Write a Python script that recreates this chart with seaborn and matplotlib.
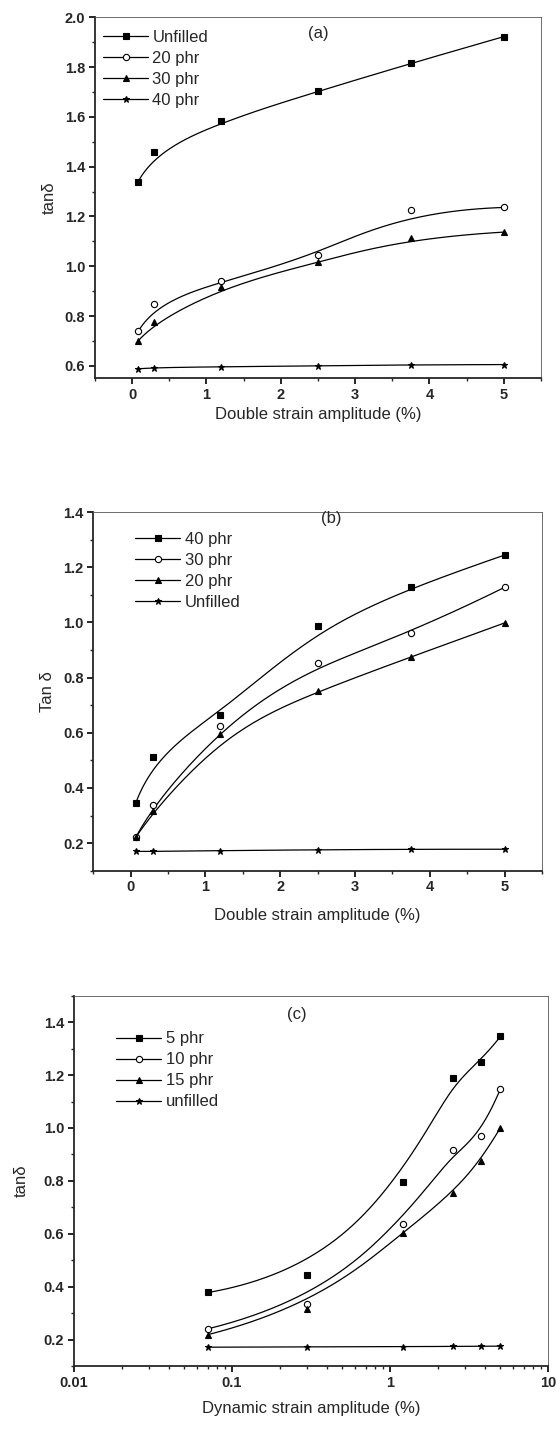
import numpy as np
import pandas as pd
import seaborn as sns
import matplotlib
matplotlib.use("Agg")
import matplotlib.pyplot as plt
from matplotlib.lines import Line2D
from matplotlib.ticker import MultipleLocator, FuncFormatter, LogLocator, NullFormatter

# ---------------- data ----------------
# Panel (a)
x_a = [0.08, 0.3, 1.2, 2.5, 3.75, 5.0]
a_unfilled = [1.340, 1.459, 1.582, 1.702, 1.815, 1.922]
a_20phr = [0.738, 0.849, 0.939, 1.044, 1.224, 1.236]
a_30phr = [0.700, 0.774, 0.918, 1.015, 1.115, 1.137]
a_40phr = [0.588, 0.593, 0.596, 0.600, 0.604, 0.605]
labels_a = ["Unfilled", "20 phr", "30 phr", "40 phr"]

# Panel (b)
x_b = [0.07, 0.3, 1.2, 2.5, 3.75, 5.0]
b_40phr = [0.347, 0.514, 0.666, 0.986, 1.127, 1.244]
b_30phr = [0.222, 0.339, 0.626, 0.854, 0.960, 1.127]
b_20phr = [0.222, 0.315, 0.596, 0.752, 0.875, 0.998]
b_unfilled = [0.170, 0.170, 0.173, 0.176, 0.178, 0.178]
labels_b = ["40 phr", "30 phr", "20 phr", "Unfilled"]

# Panel (c)
x_c = [0.071, 0.3, 1.2, 2.5, 3.75, 5.0]
c_5phr = [0.378, 0.444, 0.797, 1.190, 1.250, 1.346]
c_10phr = [0.241, 0.334, 0.638, 0.916, 0.970, 1.148]
c_15phr = [0.219, 0.315, 0.601, 0.755, 0.876, 1.001]
c_unfilled = [0.171, 0.172, 0.173, 0.174, 0.175, 0.175]
labels_c = ["5 phr", "10 phr", "15 phr", "unfilled"]

xticks_lin = [0, 1, 2, 3, 4, 5]
xticks_log = [0.01, 0.1, 1, 10]

# ---------------- style ----------------
sns.set_theme(style="ticks")
plt.rcParams["font.family"] = ["Liberation Sans", "DejaVu Sans"]
plt.rcParams["axes.linewidth"] = 1.3
plt.rcParams["xtick.major.width"] = 1.2
plt.rcParams["ytick.major.width"] = 1.2
plt.rcParams["xtick.minor.width"] = 1.0
plt.rcParams["ytick.minor.width"] = 1.0

MARKERS = [
    dict(marker="s", mfc="black", mec="black", ms=4),
    dict(marker="o", mfc="white", mec="black", ms=4.5, mew=0.8),
    dict(marker="^", mfc="black", mec="black", ms=4.5),
    dict(marker="*", mfc="black", mec="black", ms=4.5),
]


def bspline(xs, ys, n=300):
    """Clamped cubic B-spline using the data points as control points
    (the 'B-spline' connect mode of the original plotting software)."""
    P = np.column_stack([xs, ys]).astype(float)
    m = len(P)
    k = 3
    inner = np.arange(1, m - k)
    knots = np.concatenate([[0] * (k + 1), inner, [m - k] * (k + 1)]).astype(float)
    t = np.linspace(0, m - k, n)
    t[-1] -= 1e-9

    def basis(i, p, tt):
        if p == 0:
            return np.where((knots[i] <= tt) & (tt < knots[i + 1]), 1.0, 0.0)
        out = np.zeros_like(tt)
        d1 = knots[i + p] - knots[i]
        d2 = knots[i + p + 1] - knots[i + 1]
        if d1 > 0:
            out += (tt - knots[i]) / d1 * basis(i, p - 1, tt)
        if d2 > 0:
            out += (knots[i + p + 1] - tt) / d2 * basis(i + 1, p - 1, tt)
        return out

    B = np.array([basis(i, k, t) for i in range(m)])
    C = B.T @ P
    return C[:, 0], C[:, 1]


def draw_panel(ax, x, series, labels, logx=False):
    handles = []
    for ys, lab, mk in zip(series, labels, MARKERS):
        if logx:
            cx, cy = bspline(np.log10(x), ys)
            cx = 10 ** cx
        else:
            cx, cy = bspline(x, ys)
        curve = pd.DataFrame({"x": cx, "y": cy})
        sns.lineplot(data=curve, x="x", y="y", ax=ax, color="black",
                     lw=0.9, sort=False, estimator=None)
        pts = pd.DataFrame({"x": x, "y": ys})
        sns.lineplot(data=pts, x="x", y="y", ax=ax, color="black", lw=0,
                     marker=mk["marker"], markersize=mk["ms"],
                     markerfacecolor=mk["mfc"], markeredgecolor=mk["mec"],
                     markeredgewidth=mk.get("mew", 0.8), estimator=None)
        handles.append(Line2D([], [], color="black", lw=0.9, marker=mk["marker"],
                              ms=mk["ms"], mfc=mk["mfc"], mec=mk["mec"],
                              mew=mk.get("mew", 0.8), label=lab))
    return handles


def style_axes(ax, xpad, ypad):
    for s in ["top", "right"]:
        ax.spines[s].set_linewidth(0.6)
        ax.spines[s].set_color("#555555")
    ax.tick_params(axis="both", which="major", direction="out", length=4,
                   labelsize=10.5, pad=3, color="black")
    ax.tick_params(axis="both", which="minor", direction="out", length=2.5)
    for lab in ax.get_xticklabels() + ax.get_yticklabels():
        lab.set_fontweight("bold")
    ax.set_xlabel(ax.get_xlabel(), fontsize=12, labelpad=xpad)
    ax.set_ylabel(ax.get_ylabel(), fontsize=12, labelpad=ypad)


LEG = dict(frameon=False, fontsize=12, handlelength=2.7, handletextpad=0.25,
           labelspacing=0.36, borderaxespad=0.3, loc="upper left")

fig = plt.figure(figsize=(5.56, 14.35), dpi=100)

# ---- panel (a)
ax_a = fig.add_axes([0.1709, 0.7364, 0.802, 0.2516])
h = draw_panel(ax_a, x_a, [a_unfilled, a_20phr, a_30phr, a_40phr], labels_a)
ax_a.set_xlim(-0.5, 5.5)
ax_a.set_ylim(0.55, 2.0)
ax_a.set_xticks(xticks_lin)
ax_a.xaxis.set_minor_locator(MultipleLocator(0.5))
ax_a.yaxis.set_major_locator(MultipleLocator(0.2))
ax_a.yaxis.set_minor_locator(MultipleLocator(0.1))
ax_a.yaxis.set_major_formatter(FuncFormatter(lambda v, p: f"{v:.1f}"))
ax_a.set_xlabel("Double strain amplitude (%)")
ax_a.set_ylabel("tanδ")
ax_a.text(0.5, 0.955, "(a)", transform=ax_a.transAxes, ha="center", va="center", fontsize=12)
ax_a.legend(handles=h, bbox_to_anchor=(-0.008, 0.998), **LEG)
style_axes(ax_a, 3.5, 6)

# ---- panel (b)
ax_b = fig.add_axes([0.1678, 0.3932, 0.807, 0.2500])
h = draw_panel(ax_b, x_b, [b_40phr, b_30phr, b_20phr, b_unfilled], labels_b)
ax_b.set_xlim(-0.5, 5.5)
ax_b.set_ylim(0.1, 1.4)
ax_b.set_xticks(xticks_lin)
ax_b.xaxis.set_minor_locator(MultipleLocator(0.5))
ax_b.yaxis.set_major_locator(MultipleLocator(0.2))
ax_b.yaxis.set_minor_locator(MultipleLocator(0.1))
ax_b.yaxis.set_major_formatter(FuncFormatter(lambda v, p: f"{v:.1f}"))
ax_b.set_xlabel("Double strain amplitude (%)")
ax_b.set_ylabel("Tan δ")
ax_b.text(0.53, 0.982, "(b)", transform=ax_b.transAxes, ha="center", va="center", fontsize=12)
ax_b.legend(handles=h, bbox_to_anchor=(0.068, 0.978), **LEG)
style_axes(ax_b, 10, 6)

# ---- panel (c)
ax_c = fig.add_axes([0.1331, 0.0481, 0.8525, 0.2580])
h = draw_panel(ax_c, x_c, [c_5phr, c_10phr, c_15phr, c_unfilled], labels_c, logx=True)
ax_c.set_xscale("log")
ax_c.set_xlim(0.01, 10)
ax_c.set_ylim(0.1, 1.5)
ax_c.set_xticks(xticks_log)
ax_c.xaxis.set_minor_locator(LogLocator(base=10, subs=np.arange(2, 10)))
ax_c.xaxis.set_minor_formatter(NullFormatter())
ax_c.xaxis.set_major_formatter(FuncFormatter(lambda v, p: f"{v:g}"))
ax_c.yaxis.set_major_locator(MultipleLocator(0.2))
ax_c.yaxis.set_minor_locator(MultipleLocator(0.1))
ax_c.yaxis.set_major_formatter(FuncFormatter(lambda v, p: f"{v:.1f}"))
ax_c.set_yticks([0.2, 0.4, 0.6, 0.8, 1.0, 1.2, 1.4])
ax_c.set_xlabel("Dynamic strain amplitude (%)")
ax_c.set_ylabel("tanδ")
ax_c.text(0.47, 0.95, "(c)", transform=ax_c.transAxes, ha="center", va="center", fontsize=12)
ax_c.legend(handles=h, bbox_to_anchor=(0.065, 0.935), **LEG)
style_axes(ax_c, 8, 11)

fig.savefig("out.png", dpi=100)
